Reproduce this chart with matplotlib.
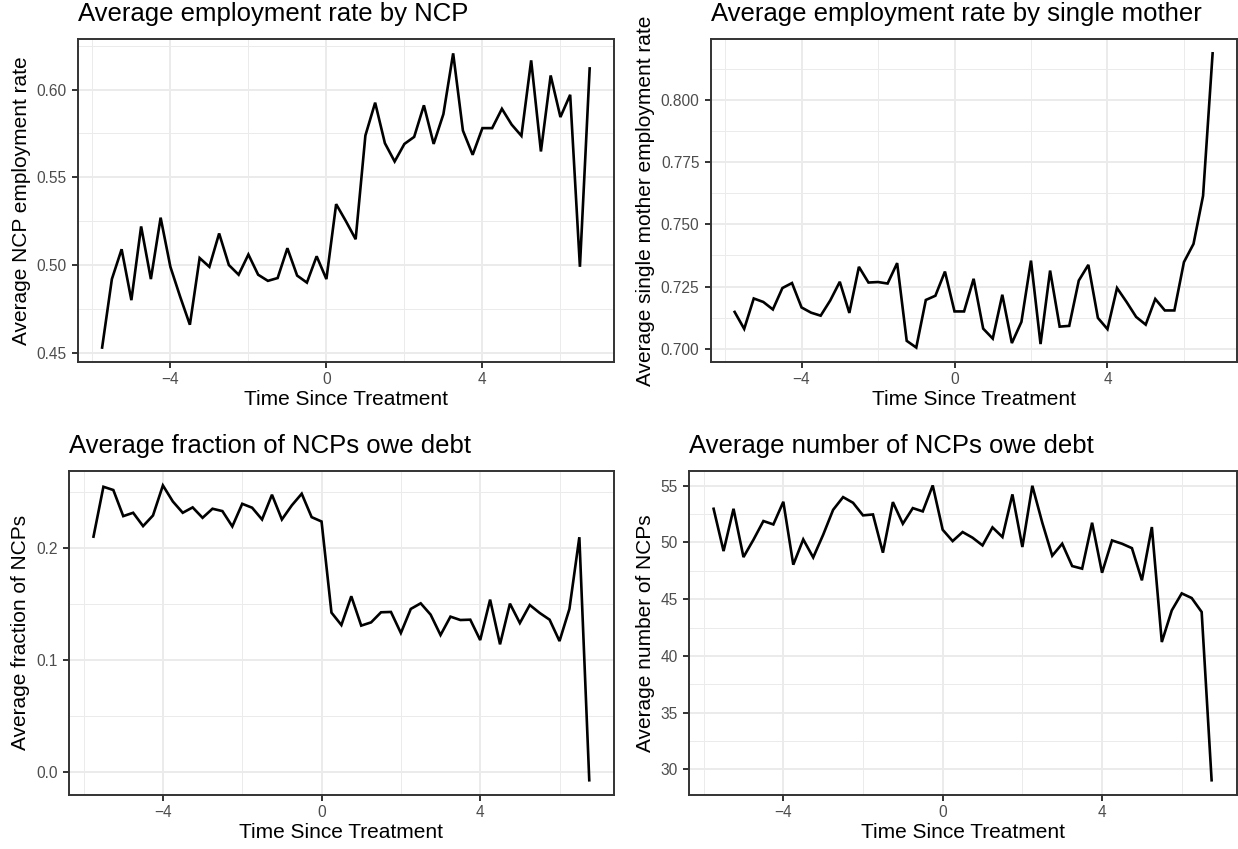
import numpy as np
import matplotlib
matplotlib.use("Agg")
import matplotlib.pyplot as plt
from matplotlib.ticker import MultipleLocator, StrMethodFormatter

plt.rcParams['font.family'] = ['Liberation Sans', 'DejaVu Sans']

# quarters relative to treatment (in years)
time_since = [-5.75, -5.5, -5.25, -5.0, -4.75, -4.5, -4.25, -4.0, -3.75, -3.5,
              -3.25, -3.0, -2.75, -2.5, -2.25, -2.0, -1.75, -1.5, -1.25, -1.0,
              -0.75, -0.5, -0.25, 0.0, 0.25, 0.5, 0.75, 1.0, 1.25, 1.5,
              1.75, 2.0, 2.25, 2.5, 2.75, 3.0, 3.25, 3.5, 3.75, 4.0,
              4.25, 4.5, 4.75, 5.0, 5.25, 5.5, 5.75, 6.0, 6.25, 6.5, 6.75]

ncp_emp = [0.453, 0.492, 0.509, 0.480, 0.522, 0.492, 0.527, 0.499, 0.482, 0.466,
           0.504, 0.499, 0.518, 0.500, 0.4945, 0.506, 0.4945, 0.491, 0.4926, 0.5096,
           0.494, 0.490, 0.505, 0.492, 0.5347, 0.525, 0.5147, 0.5738, 0.5925, 0.5694,
           0.559, 0.569, 0.573, 0.591, 0.569, 0.586, 0.6206, 0.5766, 0.5628, 0.578,
           0.578, 0.589, 0.580, 0.5736, 0.6166, 0.5647, 0.608, 0.5843, 0.597, 0.499, 0.612]

mother_emp = [0.7148, 0.708, 0.7202, 0.7188, 0.7158, 0.7244, 0.7264, 0.7166, 0.7145, 0.7133,
              0.7194, 0.7269, 0.7144, 0.7329, 0.7266, 0.7268, 0.7262, 0.7344, 0.7032, 0.7005,
              0.7196, 0.7213, 0.731, 0.715, 0.715, 0.7281, 0.7081, 0.7041, 0.7217, 0.7023,
              0.7108, 0.7354, 0.7019, 0.7314, 0.7089, 0.7092, 0.7274, 0.7337, 0.7124, 0.7079,
              0.7244, 0.7188, 0.7128, 0.7097, 0.72, 0.7154, 0.7154, 0.7348, 0.7421, 0.7614, 0.8186]

debt_frac = [0.210, 0.2545, 0.2516, 0.2283, 0.2313, 0.2194, 0.2289, 0.2557, 0.2414, 0.2313,
             0.2361, 0.2268, 0.2349, 0.2328, 0.2191, 0.2393, 0.2358, 0.2253, 0.2474, 0.2253,
             0.2379, 0.2483, 0.2274, 0.2235, 0.1422, 0.1311, 0.1568, 0.1306, 0.1335, 0.1425,
             0.1428, 0.124, 0.1455, 0.1505, 0.1404, 0.1222, 0.1386, 0.1356, 0.1359, 0.1177,
             0.1538, 0.1139, 0.1502, 0.1329, 0.149, 0.1419, 0.1359, 0.1168, 0.1455, 0.2095, -0.0074]

debt_num = [52.97, 49.24, 52.97, 48.71, 50.24, 51.89, 51.59, 53.59, 48.04, 50.27,
            48.68, 50.68, 52.88, 54.0, 53.5, 52.39, 52.47, 49.1, 53.56, 51.65,
            53.03, 52.74, 55.03, 51.12, 50.12, 50.92, 50.42, 49.74, 51.33, 50.48,
            54.24, 49.6, 55.0, 51.74, 48.83, 49.89, 47.92, 47.69, 51.74, 47.33,
            50.18, 49.89, 49.5, 46.66, 51.36, 41.22, 44.01, 45.51, 45.1, 43.87, 29.03]

panels = [
    # rect, title, ylabel, values, major step, label format
    ([0.0628, 0.5733, 0.4332, 0.3812], "Average employment rate by NCP",
     "Average NCP employment rate", ncp_emp, 0.05, "{x:.2f}"),
    ([0.5741, 0.5733, 0.4247, 0.3812], "Average employment rate by single mother",
     "Average single mother employment rate", mother_emp, 0.025, "{x:.3f}"),
    ([0.0555, 0.0636, 0.4405, 0.3820], "Average fraction of NCPs owe debt",
     "Average fraction of NCPs", debt_frac, 0.1, "{x:.1f}"),
    ([0.5563, 0.0636, 0.4425, 0.3820], "Average number of NCPs owe debt",
     "Average number of NCPs", debt_num, 5, "{x:.0f}"),
]

fig = plt.figure(figsize=(12.38, 8.49), dpi=100)

for rect, title, ylab, vals, step, fmt in panels:
    ax = fig.add_axes(rect)
    ax.plot(time_since, vals, color='black', lw=1.9, solid_joinstyle='miter')
    ax.margins(0.05)
    ax.set_axisbelow(True)

    ax.xaxis.set_major_locator(MultipleLocator(4))
    ax.xaxis.set_minor_locator(MultipleLocator(2))
    ax.yaxis.set_major_locator(MultipleLocator(step))
    ax.yaxis.set_minor_locator(MultipleLocator(step / 2))
    ax.yaxis.set_major_formatter(StrMethodFormatter(fmt))

    ax.grid(which='major', color='#EBEBEB', lw=1.4)
    ax.grid(which='minor', color='#EBEBEB', lw=0.7)
    for sp in ax.spines.values():
        sp.set_color('#333333')
        sp.set_linewidth(1.4)

    ax.tick_params(which='major', length=4.3, width=1.4, color='#333333',
                   labelsize=11.2, labelcolor='#4D4D4D')
    ax.tick_params(axis='x', pad=2.8)
    ax.tick_params(axis='y', pad=3.8)
    ax.tick_params(which='minor', length=0)

    ax.set_title(title, loc='left', fontsize=18.5, pad=12.4)
    ax.set_xlabel("Time Since Treatment", fontsize=15, labelpad=2)
    ax.set_ylabel(ylab, fontsize=15, labelpad=4)

fig.savefig("out.png", dpi=100)
